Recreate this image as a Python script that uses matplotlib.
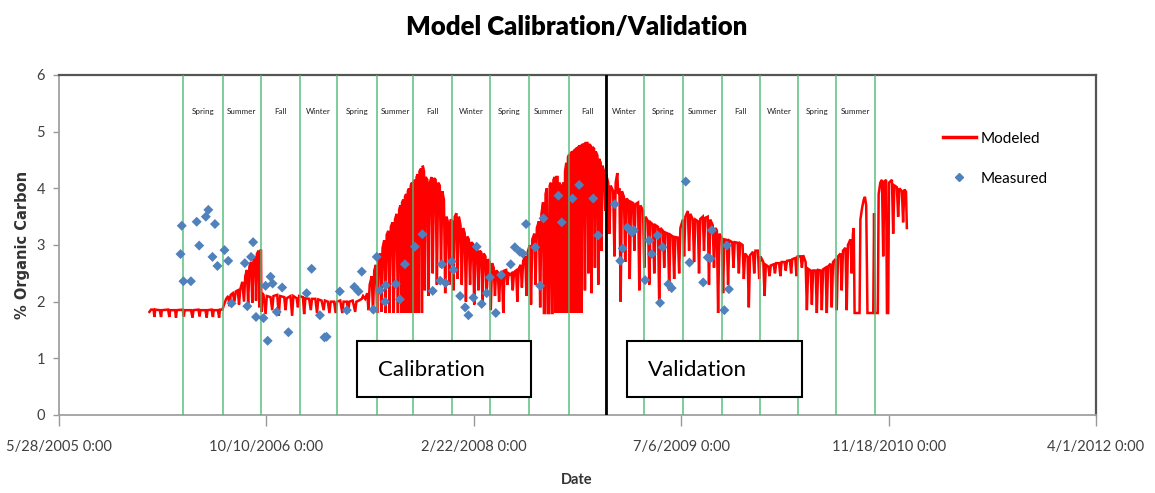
import numpy as np
import matplotlib
matplotlib.use("Agg")
import matplotlib.pyplot as plt
from matplotlib.patches import Rectangle
from matplotlib.lines import Line2D

# modeled series: (days since model_start, % organic carbon)
model_start = "2006-01-01"
modeled = [
    (0, 1.82), (4, 1.86), (10, 1.86), (12, 1.73), (14, 1.86), (25, 1.85), (28, 1.73), (30, 1.85),
    (45, 1.86), (48, 1.73), (50, 1.85), (62, 1.85), (64, 1.72), (66, 1.85), (80, 1.86), (83, 1.74),
    (85, 1.85), (100, 1.85), (104, 1.72), (106, 1.85), (118, 1.86), (121, 1.74), (123, 1.85),
    (135, 1.85), (138, 1.72), (140, 1.85), (150, 1.86), (153, 1.73), (155, 1.85), (165, 1.85),
    (168, 1.72), (170, 1.86), (176, 1.86),
    (180, 1.95), (185, 2.05), (190, 2.1), (193, 1.92), (196, 2.12), (201, 2.15), (205, 2.0),
    (208, 2.18), (213, 2.2), (216, 1.95), (219, 2.22), (224, 2.35), (228, 2.0), (231, 2.45),
    (235, 2.56), (238, 1.95), (241, 2.62), (245, 2.7), (248, 1.98), (251, 2.74), (255, 2.8),
    (257, 2.02), (259, 2.84), (263, 2.9), (265, 1.9), (267, 2.88), (269, 2.92), (270, 1.82), (272, 2.15),
    (275, 2.12), (280, 1.78), (283, 2.1), (292, 2.08), (296, 1.85), (299, 2.1), (308, 2.12), (312, 1.75),
    (315, 2.1), (325, 2.08), (328, 1.85), (331, 2.06), (340, 2.1), (344, 1.75), (347, 2.1), (355, 2.06),
    (358, 1.9), (361, 2.1), (370, 2.08), (373, 1.78), (376, 2.06), (385, 2.05), (389, 1.85), (392, 2.05),
    (400, 2.05), (404, 1.8), (407, 2.04), (415, 2.02), (420, 1.85), (423, 2.02), (430, 2.0), (434, 1.8),
    (437, 2.0), (445, 2.0), (449, 1.8), (452, 2.0), (460, 2.02), (465, 1.8), (468, 2.0), (476, 2.0),
    (479, 1.8), (482, 2.0), (490, 2.02), (496, 1.82), (499, 2.0), (505, 2.02), (512, 2.05),
    (515, 2.1), (520, 2.05), (525, 2.15), (528, 1.85), (531, 2.3), (536, 2.45), (539, 1.8), (542, 2.55),
    (546, 2.65), (549, 1.8), (552, 2.75), (556, 2.85), (559, 1.82), (562, 2.95), (566, 3.08), (569, 1.8),
    (572, 3.18), (576, 3.25), (579, 1.8), (582, 3.32), (586, 3.4), (589, 1.8), (592, 3.45), (596, 3.55),
    (599, 1.8), (602, 3.62), (605, 3.7), (607, 1.8), (609, 3.75), (612, 3.8), (614, 1.8), (616, 3.85),
    (619, 3.9), (621, 1.8), (623, 3.95), (626, 4.0), (628, 1.8), (630, 4.05), (633, 4.1), (635, 1.8),
    (637, 4.12), (640, 4.15), (642, 1.8), (644, 4.2), (647, 4.25), (649, 1.8), (651, 4.3), (655, 4.35),
    (657, 1.8), (659, 4.4), (662, 4.3), (664, 2.2), (666, 4.2), (670, 4.15), (673, 2.1), (676, 4.1),
    (680, 4.2), (683, 2.5), (686, 4.18), (690, 4.15), (693, 2.3), (696, 4.1), (700, 4.05), (703, 2.6),
    (706, 3.95), (710, 3.8), (713, 2.15), (716, 3.5), (720, 3.4), (723, 2.3), (726, 3.45), (730, 3.42),
    (733, 2.2), (736, 3.5), (740, 3.56), (743, 2.4), (746, 3.5), (750, 3.35), (753, 2.3), (756, 3.3),
    (760, 3.21), (763, 2.0), (766, 3.15), (770, 3.1), (773, 2.3), (776, 3.05), (780, 3.02), (783, 1.95),
    (786, 3.0), (790, 2.95), (793, 2.2), (796, 2.9), (800, 2.87), (803, 2.0), (806, 2.85), (810, 2.8),
    (813, 2.1), (816, 2.75), (820, 2.7), (823, 1.85), (826, 2.68), (830, 2.6), (833, 2.1), (836, 2.55),
    (840, 2.52), (843, 2.0), (846, 2.5), (850, 2.52), (853, 1.8), (856, 2.55), (860, 2.56), (863, 2.3),
    (866, 2.5), (870, 2.48),
    (873, 2.5), (876, 2.2), (879, 2.52), (884, 2.55), (887, 2.0), (890, 2.58), (895, 2.65), (898, 2.25),
    (901, 2.72), (906, 2.8), (909, 2.1), (912, 2.88), (917, 3.0), (920, 1.95), (923, 3.1), (928, 3.2),
    (931, 2.3), (934, 3.3), (939, 3.42), (942, 1.9), (945, 3.55), (949, 3.75), (951, 1.8), (953, 1.8),
    (955, 3.9), (958, 4.0), (960, 1.8), (963, 1.8), (965, 4.05), (968, 4.1), (970, 1.8), (972, 1.8),
    (974, 4.15), (977, 4.2), (979, 1.8), (981, 4.2), (984, 4.2), (986, 1.8), (988, 4.1), (991, 4.05),
    (993, 1.8), (995, 4.02), (998, 4.1), (1000, 1.8), (1002, 4.3), (1005, 4.45), (1007, 1.8), (1009, 4.55),
    (1012, 4.6), (1014, 1.8), (1016, 4.62), (1019, 4.65), (1021, 1.8), (1023, 4.66), (1026, 4.68),
    (1028, 1.8), (1030, 4.7), (1033, 4.72), (1035, 1.8), (1037, 4.74), (1040, 4.75), (1042, 1.8),
    (1044, 4.77), (1048, 4.78), (1050, 2.2), (1052, 4.8), (1056, 4.8), (1058, 2.5), (1060, 4.78),
    (1064, 4.75), (1066, 2.15), (1068, 4.73), (1072, 4.7), (1074, 2.6), (1076, 4.65), (1080, 4.58),
    (1082, 2.3), (1084, 4.52), (1088, 4.45), (1090, 2.9), (1092, 4.4), (1096, 4.3), (1099, 3.6),
    (1101, 4.25), (1106, 4.1), (1109, 3.2), (1112, 4.05), (1118, 3.95), (1121, 2.8), (1124, 4.1),
    (1128, 4.27), (1130, 3.9), (1133, 4.0), (1136, 2.0), (1139, 3.95), (1144, 3.85), (1147, 2.7),
    (1150, 3.82), (1155, 3.78), (1158, 2.4), (1161, 3.76), (1166, 3.74), (1169, 2.9), (1172, 3.72),
    (1178, 3.75), (1181, 2.2), (1184, 3.7), (1190, 3.6), (1193, 2.6), (1196, 3.5), (1202, 3.42),
    (1205, 2.3), (1208, 3.4), (1214, 3.36), (1217, 2.5), (1220, 3.35), (1226, 3.32), (1229, 1.95),
    (1232, 3.3), (1238, 3.25), (1241, 2.6), (1244, 3.22), (1250, 3.2), (1253, 2.2), (1256, 3.18),
    (1262, 3.15), (1265, 2.4), (1268, 3.14), (1274, 3.13), (1277, 2.5), (1280, 3.3), (1286, 3.45),
    (1289, 2.8), (1292, 3.5), (1298, 3.6), (1301, 2.9), (1304, 3.55), (1310, 3.45), (1313, 2.7),
    (1316, 3.45), (1322, 3.42), (1325, 2.5), (1328, 3.46), (1334, 3.5), (1337, 2.9), (1340, 3.48),
    (1346, 3.5), (1349, 2.3), (1352, 3.45), (1358, 3.35), (1361, 2.6), (1364, 3.3), (1368, 3.26),
    (1371, 1.8), (1374, 3.2), (1380, 3.12), (1383, 2.15), (1386, 3.1), (1392, 3.09), (1395, 2.3),
    (1398, 3.08), (1405, 3.05), (1408, 2.6), (1411, 3.05), (1418, 3.04), (1421, 2.5), (1424, 3.03),
    (1430, 3.0), (1433, 2.4), (1436, 2.85), (1442, 2.79), (1445, 1.9), (1448, 2.82), (1455, 2.88),
    (1458, 2.5), (1461, 2.9), (1467, 2.9), (1470, 2.4), (1473, 2.8), (1480, 2.7), (1483, 2.1),
    (1486, 2.65), (1492, 2.62), (1495, 2.45), (1498, 2.64), (1505, 2.66), (1508, 2.5), (1511, 2.68),
    (1518, 2.68), (1521, 2.45), (1524, 2.7), (1531, 2.7), (1534, 2.55), (1537, 2.72), (1544, 2.73),
    (1547, 2.5), (1550, 2.75), (1557, 2.77), (1560, 2.45), (1563, 2.8), (1570, 2.8), (1573, 2.6),
    (1576, 2.82), (1582, 2.7), (1585, 1.85), (1588, 2.58), (1594, 2.55), (1597, 1.95), (1600, 2.55),
    (1606, 2.55), (1609, 1.8), (1612, 2.56), (1618, 2.55), (1621, 1.85), (1624, 2.57), (1630, 2.6),
    (1633, 1.8), (1636, 2.62), (1642, 2.67), (1645, 1.9), (1648, 2.7), (1654, 2.75), (1657, 1.85),
    (1660, 2.8), (1666, 2.85), (1669, 2.2), (1672, 2.9), (1678, 2.95), (1681, 1.85), (1684, 3.0),
    (1690, 3.1), (1693, 2.5), (1696, 3.2), (1698, 3.3), (1700, 1.8), (1712, 1.8), (1714, 3.45),
    (1718, 3.65), (1722, 3.8), (1725, 3.85), (1728, 3.7), (1731, 1.8), (1745, 1.8), (1747, 3.56),
    (1749, 1.8), (1756, 1.8), (1758, 3.9), (1762, 4.1), (1766, 4.15), (1769, 2.8), (1772, 4.12),
    (1776, 4.15), (1778, 1.8), (1781, 1.8), (1783, 4.1), (1790, 4.15), (1793, 3.2), (1796, 4.05),
    (1802, 4.02), (1805, 3.5), (1808, 4.0), (1814, 3.95), (1817, 3.4), (1820, 3.98), (1824, 3.94),
    (1826, 3.3),
]

meas_dates = [
    "2006-03-17", "2006-03-20", "2006-03-24", "2006-04-11", "2006-04-25", "2006-05-01", "2006-05-17",
    "2006-05-23", "2006-06-02", "2006-06-08", "2006-06-14", "2006-07-01", "2006-07-10", "2006-07-18",
    "2006-08-19", "2006-08-25", "2006-09-03", "2006-09-08", "2006-09-15", "2006-10-03", "2006-10-08",
    "2006-10-13", "2006-10-20", "2006-10-25", "2006-11-04", "2006-11-17", "2006-12-02", "2007-01-15",
    "2007-01-27", "2007-02-16", "2007-02-27", "2007-03-04", "2007-04-05", "2007-04-22", "2007-05-10",
    "2007-05-20", "2007-05-28", "2007-06-25", "2007-07-03", "2007-07-11", "2007-07-23", "2007-07-25",
    "2007-08-18", "2007-08-28", "2007-09-09", "2007-10-03", "2007-10-21", "2007-11-15", "2007-12-03",
    "2007-12-07", "2007-12-16", "2007-12-31", "2008-01-04", "2008-01-20", "2008-02-01", "2008-02-09",
    "2008-02-21", "2008-02-29", "2008-03-12", "2008-03-24", "2008-04-01", "2008-04-15", "2008-04-28",
    "2008-05-21", "2008-05-31", "2008-06-12", "2008-06-19", "2008-06-27", "2008-07-19", "2008-07-31",
    "2008-08-08", "2008-09-13", "2008-09-21", "2008-10-17", "2008-11-02", "2008-12-06", "2008-12-18",
    "2009-01-27", "2009-02-09", "2009-02-15", "2009-02-26", "2009-03-09", "2009-03-14", "2009-04-10",
    "2009-04-20", "2009-04-26", "2009-05-10", "2009-05-16", "2009-05-22", "2009-06-05", "2009-06-13",
    "2009-07-17", "2009-07-26", "2009-08-28", "2009-09-08", "2009-09-14", "2009-09-18", "2009-10-18",
    "2009-10-24", "2009-10-29",
]
meas_vals = [
    2.84, 3.34, 2.36, 2.36, 3.41, 2.99, 3.50,
    3.62, 2.79, 3.37, 2.63, 2.91, 2.72, 1.97,
    2.68, 1.92, 2.79, 3.05, 1.73, 1.71, 2.28,
    1.31, 2.44, 2.32, 1.82, 2.25, 1.46, 2.15,
    2.58, 1.76, 1.37, 1.38, 2.18, 1.85, 2.26,
    2.18, 2.53, 1.86, 2.79, 2.20, 2.00, 2.29,
    2.31, 2.04, 2.66, 2.97, 3.19, 2.19, 2.37,
    2.66, 2.33, 2.71, 2.56, 2.10, 1.90, 1.76,
    2.07, 2.97, 1.96, 2.15, 2.43, 1.80, 2.47,
    2.66, 2.96, 2.88, 2.85, 3.37, 2.96, 2.28,
    3.47, 3.87, 3.40, 3.82, 4.06, 3.82, 3.17,
    3.72, 2.72, 2.94, 3.31, 3.22, 3.26, 2.38,
    3.08, 2.84, 3.17, 1.98, 2.96, 2.31, 2.24,
    4.12, 2.69, 2.34, 2.78, 2.76, 3.26, 1.85,
    2.99, 2.22,
]

season_edges = [
    "2006-03-23", "2006-06-27", "2006-09-27", "2006-12-30", "2007-03-29", "2007-07-04",
    "2007-09-29", "2008-01-01", "2008-04-01", "2008-07-04", "2008-10-09", "2009-01-06",
    "2009-04-07", "2009-07-10", "2009-10-12", "2010-01-12", "2010-04-14", "2010-07-14",
    "2010-10-16",
]
season_names = [
    "Spring", "Summer", "Fall", "Winter", "Spring", "Summer", "Fall", "Winter", "Spring",
    "Summer", "Fall", "Winter", "Spring", "Summer", "Fall", "Winter", "Spring", "Summer",
]
split_date = "2009-01-06"

tick_dates = ["2005-05-28", "2006-10-10", "2008-02-22", "2009-07-06", "2010-11-18", "2012-04-01"]
tick_labels = ["5/28/2005 0:00", "10/10/2006 0:00", "2/22/2008 0:00",
               "7/6/2009 0:00", "11/18/2010 0:00", "4/1/2012 0:00"]

W, H = 1155, 493
fig = plt.figure(figsize=(W / 100, H / 100), dpi=100)
ax = fig.add_axes([59 / W, 1 - 415 / H, (1096 - 59) / W, (415 - 75) / H])

mday = np.array([p[0] for p in modeled])
mval = np.array([p[1] for p in modeled])
mdate = np.datetime64(model_start) + mday.astype("timedelta64[D]")
edges = np.array(season_edges, dtype="datetime64[D]")

ax.plot(mdate, mval, color="#ff0000", lw=1.8, zorder=2, solid_joinstyle="miter")
ax.scatter(np.array(meas_dates, dtype="datetime64[D]"), meas_vals, marker="D", s=26,
           color="#4f81bd", edgecolors="none", zorder=4)

for e in edges:
    ax.axvline(e, color="#4cba74", lw=1.2, alpha=0.85, zorder=3)
ax.axvline(np.datetime64(split_date), color="black", lw=2, zorder=5)

mids = edges[:-1] + (edges[1:] - edges[:-1]) / 2
for m, name in zip(mids, season_names):
    ax.text(m, 5.35, name, ha="center", va="center", fontsize=5.8,
            family="Lato", color="#222222")

ax.set_ylim(0, 6)
ax.set_yticks(range(7))
ax.set_xlim(np.datetime64(tick_dates[0]), np.datetime64(tick_dates[-1]))
ax.set_xticks(np.array(tick_dates, dtype="datetime64[D]"))
ax.set_xticklabels(tick_labels)

for lab in ax.get_xticklabels() + ax.get_yticklabels():
    lab.set_family("Lato")
    lab.set_fontsize(10.5)
    lab.set_color("#404040")
ax.tick_params(axis="x", length=8, width=1, color="#999999", pad=10)
ax.tick_params(axis="y", length=4, width=1, color="#999999", pad=6)

for s in ["top", "right"]:
    ax.spines[s].set_color("#555555")
    ax.spines[s].set_linewidth(1.6)
for s in ["left", "bottom"]:
    ax.spines[s].set_color("#a0a0a0")
    ax.spines[s].set_linewidth(1.3)

ax.set_ylabel("% Organic Carbon", fontsize=10.5, fontweight="bold", family="DejaVu Sans",
              color="#333333", labelpad=5)
fig.text(577 / W, 1 - 480 / H, "Date", ha="center", va="center", fontsize=10.5,
         fontweight="bold", family="Lato", color="#333333")
fig.text(577 / W, 1 - 27 / H, "Model Calibration/Validation", ha="center", va="center",
         fontsize=18.5, fontweight="heavy", family="Lato")

# calibration / validation boxes
for x0, x1, txt in [(357, 531, "Calibration"), (627, 802, "Validation")]:
    fig.add_artist(Rectangle((x0 / W, 1 - 397 / H), (x1 - x0) / W, 56 / H,
                             transform=fig.transFigure, facecolor="white",
                             edgecolor="black", lw=1.5, zorder=10))
    fig.text((x0 + 21) / W, 1 - 370 / H, txt, ha="left", va="center", fontsize=16,
             family="Lato", zorder=11)

handles = [Line2D([], [], color="#ff0000", lw=2.5),
           Line2D([], [], color="#4f81bd", marker="D", ls="none", markersize=4)]
fig.legend(handles, ["Modeled", "Measured"], loc="upper left",
           bbox_to_anchor=(935 / W, 1 - 124 / H), frameon=False, borderpad=0,
           handlelength=2.2, handletextpad=0.3, labelspacing=1.7,
           prop={"family": "Lato", "size": 11})

fig.savefig("out.png", dpi=100)
